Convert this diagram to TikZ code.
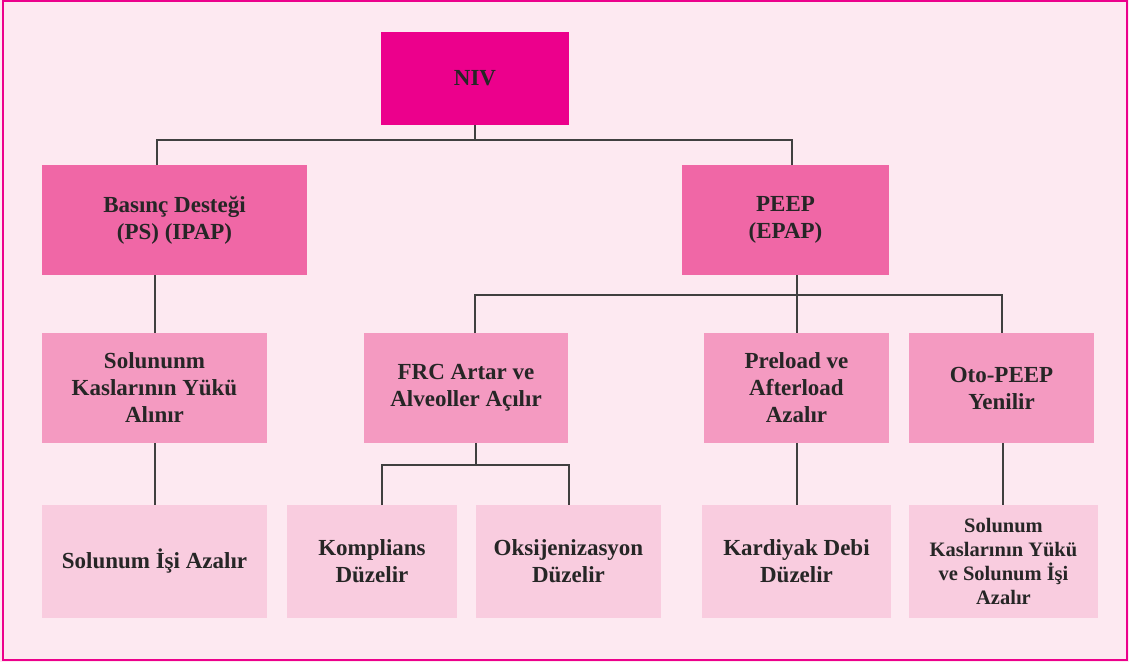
\documentclass[tikz,border=0pt]{standalone}
\usepackage{fontspec}
\setmainfont{Liberation Serif}
\usetikzlibrary{calc,positioning}
\definecolor{nivpink}{HTML}{EC008C}
\definecolor{midpink}{HTML}{F067A6}
\definecolor{softpink}{HTML}{F49AC1}
\definecolor{palepink}{HTML}{F9CCDF}
\definecolor{bgpink}{HTML}{FDE9F1}
\tikzstyle{box}=[
  rectangle,
  inner sep=0pt,
  outer sep=0pt,
  align=center,
  text=black!85,
  font={\fontsize{23}{27}\selectfont\bfseries},
]
\tikzstyle{level1}=[box, fill=nivpink]
\tikzstyle{level2}=[box, fill=midpink, minimum height=110]
\tikzstyle{level3}=[box, fill=softpink, minimum height=110]
\tikzstyle{level4}=[box, fill=palepink, minimum height=113]
\tikzstyle{link}=[
  draw=black!75,
  line width=1.2pt,
]
\begin{document}
\begin{tikzpicture}[x=1pt, y=-1pt]
      \fill [bgpink] (0,0) rectangle (1129,662);
      \draw [nivpink, line width=2pt] (2.5,1) rectangle (1127,660);
      %%
      \node (niv) [level1, minimum width=188, minimum height=93] at (475,78.5) {NIV};
      \node (basinc) [level2, minimum width=265] at (174.5,220) {Basınç Desteği\\(PS) (IPAP)};
      \node (peep) [level2, minimum width=207] at (785.5,220) {PEEP\\(EPAP)};
      %%
      \node (solunumm) [level3, minimum width=225] at (154.5,388) {Solununm\\Kaslarının Yükü\\Alınır};
      \node (frc) [level3, minimum width=204] at (466,388) {FRC Artar ve\\Alveoller Açılır};
      \node (preload) [level3, minimum width=185] at (796.5,388) {Preload ve\\Afterload\\Azalır};
      \node (oto) [level3, minimum width=185] at (1001.5,388) {Oto-PEEP\\Yenilir};
      %%
      \node (isi) [level4, minimum width=225] at (154.5,561.5) {Solunum İşi Azalır};
      \node (komplians) [level4, minimum width=170] at (372,561.5) {Komplians\\Düzelir};
      \node (oksijen) [level4, minimum width=185] at (568.5,561.5) {Oksijenizasyon\\Düzelir};
      \node (kardiyak) [level4, minimum width=189] at (796.5,561.5) {Kardiyak Debi\\Düzelir};
      \node (otoalt) [level4, minimum width=189, font={\fontsize{20.5}{24}\selectfont\bfseries}] at (1003.5,561.5) {Solunum\\Kaslarının Yükü\\ve Solunum İşi\\Azalır};
      %%
      \coordinate (A) at (157,140);
      \coordinate (B) at (792,140);
      \draw [link] (niv.south) -- (niv.south |- A);
      \draw [link] (basinc.north -| A) -- (A) -- (B) -- (peep.north -| B);
      %%
      \coordinate (C) at (155,0);
      \draw [link] (basinc.south -| C) -- (solunumm.north -| C);
      \draw [link] (solunumm.south -| C) -- (isi.north -| C);
      %%
      \coordinate (D) at (475,295);
      \coordinate (E) at (797,295);
      \coordinate (F) at (1002,295);
      \draw [link] (peep.south -| E) -- (E);
      \draw [link] (frc.north -| D) -- (D) -- (F) -- (oto.north -| F);
      \draw [link] (E) -- (preload.north -| E);
      %%
      \coordinate (G) at (476,465);
      \coordinate (H) at (382,465);
      \coordinate (I) at (569,465);
      \draw [link] (frc.south -| G) -- (G);
      \draw [link] (komplians.north -| H) -- (H) -- (I) -- (oksijen.north -| I);
      %%
      \draw [link] (preload.south -| E) -- (kardiyak.north -| E);
      \draw [link] (oto.south -| 1003,0) -- (otoalt.north -| 1003,0);
    \end{tikzpicture}
\end{document}
